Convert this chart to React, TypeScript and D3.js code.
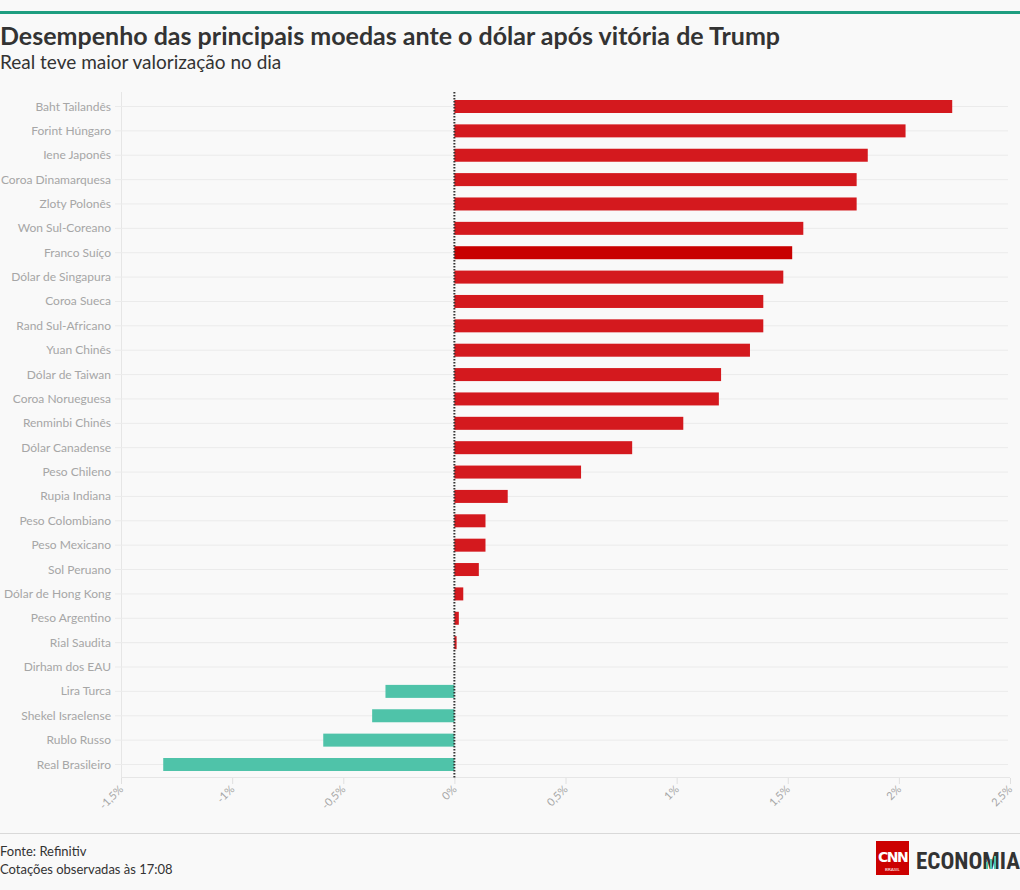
import React from "react";
import * as d3 from "d3";

const categories = [
  "Baht Tailandês", "Forint Húngaro", "Iene Japonês", "Coroa Dinamarquesa", "Zloty Polonês",
  "Won Sul-Coreano", "Franco Suíço", "Dólar de Singapura", "Coroa Sueca", "Rand Sul-Africano",
  "Yuan Chinês", "Dólar de Taiwan", "Coroa Norueguesa", "Renminbi Chinês", "Dólar Canadense",
  "Peso Chileno", "Rupia Indiana", "Peso Colombiano", "Peso Mexicano", "Sol Peruano",
  "Dólar de Hong Kong", "Peso Argentino", "Rial Saudita", "Dirham dos EAU", "Lira Turca",
  "Shekel Israelense", "Rublo Russo", "Real Brasileiro",
];
const values = [
  2.24, 2.03, 1.86, 1.81, 1.81,
  1.57, 1.52, 1.48, 1.39, 1.39,
  1.33, 1.2, 1.19, 1.03, 0.8,
  0.57, 0.24, 0.14, 0.14, 0.11,
  0.04, 0.02, 0.01, 0, -0.31,
  -0.37, -0.59, -1.31,
];
const xTicks = [-1.5, -1, -0.5, 0, 0.5, 1, 1.5, 2, 2.5];
const highlighted = "Franco Suíço";

const W = 1020, H = 890;
const FONT = "'Source Sans Pro', Lato, 'Open Sans', sans-serif";

export default function App() {
  const x = d3.scaleLinear().domain([-1.5, 2.5]).range([121, 1010]);
  const y = d3.scalePoint<string>().domain(categories).range([106.5, 764.5]);
  const bh = 13;
  const fmt = (v: number) => `${String(v).replace(".", ",")}%`;

  return (
    <svg width={W} height={H} style={{ position: "absolute", left: 0, top: 0, background: "#f9f9f9" }}
      fontFamily={FONT}>
      <rect x={0} y={0} width={W} height={H} fill="#f9f9f9" />
      <rect x={0} y={11} width={W} height={3} fill="#1e9e80" />
      <text x={0} y={45} fontSize={25} fontWeight={700} fill="#333">
        Desempenho das principais moedas ante o dólar após vitória de Trump
      </text>
      <text x={0} y={69} fontSize={19} fill="#333">Real teve maior valorização no dia</text>

      {/* y axis line */}
      <line x1={121.5} x2={121.5} y1={92} y2={778} stroke="#e6e6e6" />
      {/* gridlines */}
      {categories.map((c) => (
        <line key={"g" + c} x1={115} x2={1008} y1={y(c)!} y2={y(c)!} stroke="#ebebeb" />
      ))}
      {categories.map((c) => (
        <text key={"l" + c} x={111} y={y(c)! + 4} textAnchor="end" fontSize={12} fill="#a6a6a6">
          {c}
        </text>
      ))}
      {/* bars */}
      {categories.map((c, i) => {
        const v = values[i];
        const x0 = x(Math.min(0, v)), x1 = x(Math.max(0, v));
        return (
          <rect key={"b" + c} x={x0} y={y(c)! - bh / 2} width={Math.max(0, x1 - x0)} height={bh}
            fill={v < 0 ? "#4fc3a9" : c === highlighted ? "#c80000" : "#d4191e"} />
        );
      })}
      {/* x axis */}
      <line x1={121} x2={1010} y1={777.5} y2={777.5} stroke="#e6e6e6" />
      {xTicks.map((t) => (
        <g key={"t" + t} transform={`translate(${x(t)},778)`}>
          <line x1={0.5} x2={0.5} y1={0} y2={6} stroke="#e0e0e0" />
          <text transform="translate(3,12) rotate(-45)" textAnchor="end" fontSize={11} fill="#a6a6a6">
            {fmt(t)}
          </text>
        </g>
      ))}
      {/* zero line */}
      <line x1={x(0)} x2={x(0)} y1={92} y2={778} stroke="#333" strokeWidth={2} strokeDasharray="1.5,1.5" />

      {/* footer */}
      <line x1={0} x2={W} y1={833.5} y2={833.5} stroke="#d9d9d9" />
      <text x={0} y={856} fontSize={13} fill="#333">Fonte: Refinitiv</text>
      <text x={0} y={874} fontSize={13} fill="#333">Cotações observadas às 17:08</text>
      <g>
        <rect x={876} y={841} width={33} height={34} fill="#cc0000" />
        <text x={892.5} y={862} textAnchor="middle" fontSize={14} fontWeight={700} fill="#fff" fontFamily="'DejaVu Sans', sans-serif" letterSpacing={-1.5}>CNN</text>
        <text x={892.5} y={871} textAnchor="middle" fontSize={4.5} fill="#fff">BRASIL</text>
        <text x={916} y={869} fontSize={23} fontWeight={700} fill="#333" fontFamily="'Roboto Condensed', 'Liberation Sans Narrow', Roboto, sans-serif" textLength={104} lengthAdjust="spacingAndGlyphs">ECONOMIA</text>
        <rect x={986} y={862} width={2} height={7} fill="#4fc3a9" />
        <rect x={990} y={859} width={2} height={10} fill="#4fc3a9" />
        <rect x={994} y={856} width={2} height={13} fill="#4fc3a9" />
      </g>
    </svg>
  );
}
